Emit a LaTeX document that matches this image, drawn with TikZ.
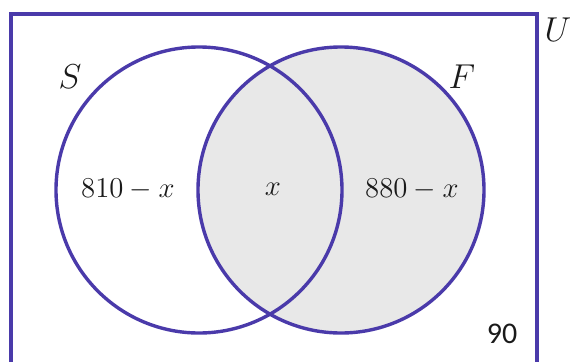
\documentclass[tikz,border=0pt]{standalone}
\usepackage{fontspec}
\usepackage{tikz}
\usepackage{xcolor}
\usetikzlibrary{positioning}
\newfontfamily\calfont{Carlito}
\definecolor{ink}{HTML}{1A1A1A}
\definecolor{setblue}{HTML}{4A3AAA}
\definecolor{shadegray}{HTML}{E8E8E8}
\tikzset{
  setline/.style={draw=setblue,line width=1.7pt},
  setname/.style={font=\fontsize{18}{21}\selectfont,text=ink,inner sep=0pt},
  region/.style={font=\fontsize{14.5}{17}\selectfont,text=ink,inner sep=0pt},
  outside/.style={font=\calfont\fontsize{15}{18}\selectfont,text=ink,inner sep=0pt}
}

\begin{document}
\begin{tikzpicture}[x=0.5pt,y=0.5pt]
  \useasboundingbox (0,0) rectangle (573,361);
  \clip (0,0) rectangle (573,361);
  % shaded set F
  \fill[shadegray] (341,171) circle[radius=143];
  % universal set and the two sets
  \draw[setline] (11,-20) rectangle (537,347);
  \draw[setline] (199,171) circle[radius=143];
  \draw[setline] (341,171) circle[radius=143];
  % labels
  \node[setname] (lblS) at (70,284) {$S$};
  \node[setname] (lblF) at (462,284) {$F$};
  \node[setname] (lblU) at (558,331) {$U$};
  \node[region] (onlyS) at (128,172) {$810-x$};
  \node[region] (both) at (273,172) {$x$};
  \node[region] (onlyF) at (412,172) {$880-x$};
  \node[outside] (rest) at (502,27) {90};
\end{tikzpicture}
\end{document}
